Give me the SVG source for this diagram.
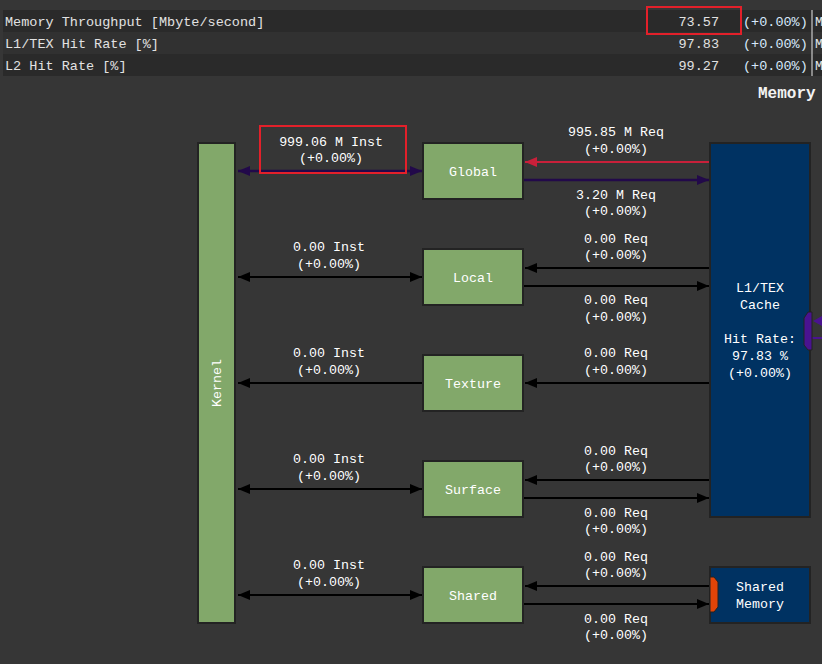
<svg xmlns="http://www.w3.org/2000/svg" width="822" height="664" viewBox="0 0 822 664">
  <style>
    .tbl { font-family: "Liberation Mono", "DejaVu Sans Mono", monospace; font-size: 13.5px; fill: #e2e2e2; }
    .pct { fill: #d6e8fb; }
    .lbl { font-family: "Liberation Mono", "DejaVu Sans Mono", monospace; font-size: 13.3px; fill: #ffffff; text-anchor: middle; dominant-baseline: central; }
    .unit { fill: #82a86a; stroke: #232323; stroke-width: 2; }
    .mem { fill: #003262; stroke: #232323; stroke-width: 2; }
    .blk { stroke: #000000; stroke-width: 2; fill: none; }
    .pur { stroke: #22094a; stroke-width: 2.5; fill: none; }
    .red { stroke: #c8203a; stroke-width: 2; fill: none; }
    .hl { fill: none; stroke: #e3202a; stroke-width: 2; }
  </style>
  <defs>
    <marker id="ah-black" viewBox="0 0 12 10" refX="12" refY="5" markerWidth="12" markerHeight="10" markerUnits="userSpaceOnUse" orient="auto-start-reverse">
      <path d="M0,0 L12,5 L0,10 z" fill="#000000"/>
    </marker>
    <marker id="ah-purple" viewBox="0 0 12 10" refX="12" refY="5" markerWidth="12" markerHeight="10" markerUnits="userSpaceOnUse" orient="auto-start-reverse">
      <path d="M0,0 L12,5 L0,10 z" fill="#22094a"/>
    </marker>
    <marker id="ah-red" viewBox="0 0 12 10" refX="12" refY="5" markerWidth="12" markerHeight="10" markerUnits="userSpaceOnUse" orient="auto-start-reverse">
      <path d="M0,0 L12,5 L0,10 z" fill="#c8203a"/>
    </marker>
  </defs>

  <rect width="822" height="664" fill="#363636"/>

  <!-- metrics table -->
  <g id="metrics-table">
    <rect x="3" y="10" width="819" height="22" fill="#2a2a2a"/>
    <rect x="3" y="32" width="819" height="22" fill="#313131"/>
    <rect x="3" y="54" width="819" height="22" fill="#2a2a2a"/>
    <line x1="812" y1="10" x2="812" y2="76" stroke="#e8e8e8" stroke-width="1"/>
    <text class="tbl" x="5" y="26">Memory Throughput [Mbyte/second]</text>
    <text class="tbl" x="5" y="48">L1/TEX Hit Rate [%]</text>
    <text class="tbl" x="5" y="70">L2 Hit Rate [%]</text>
    <text class="tbl" x="719" y="26" text-anchor="end">73.57</text>
    <text class="tbl" x="719" y="48" text-anchor="end">97.83</text>
    <text class="tbl" x="719" y="70" text-anchor="end">99.27</text>
    <text class="tbl pct" x="743" y="26">(+0.00%)</text>
    <text class="tbl pct" x="743" y="48">(+0.00%)</text>
    <text class="tbl pct" x="743" y="70">(+0.00%)</text>
    <text class="tbl" x="815" y="26">M</text>
    <text class="tbl" x="815" y="48">M</text>
    <text class="tbl" x="815" y="70">M</text>
    <rect class="hl" x="647" y="7" width="94" height="27"/>
  </g>

  <text x="758" y="98" font-family="Liberation Mono, DejaVu Sans Mono, monospace" font-size="16" font-weight="bold" fill="#f2f2f2">Memory</text>

  <!-- connectors -->
  <g id="connectors">
    <line class="pur" x1="238" y1="171" x2="422" y2="171" marker-start="url(#ah-purple)" marker-end="url(#ah-purple)"/>
    <line class="red" x1="709" y1="162" x2="525" y2="162" marker-end="url(#ah-red)"/>
    <line class="pur" x1="524" y1="180" x2="709" y2="180" marker-end="url(#ah-purple)"/>

    <line class="blk" x1="238" y1="277" x2="422" y2="277" marker-start="url(#ah-black)" marker-end="url(#ah-black)"/>
    <line class="blk" x1="709" y1="268" x2="525" y2="268" marker-end="url(#ah-black)"/>
    <line class="blk" x1="524" y1="286" x2="709" y2="286" marker-end="url(#ah-black)"/>

    <line class="blk" x1="422" y1="383" x2="238" y2="383" marker-end="url(#ah-black)"/>
    <line class="blk" x1="709" y1="383" x2="525" y2="383" marker-end="url(#ah-black)"/>

    <line class="blk" x1="238" y1="489" x2="422" y2="489" marker-start="url(#ah-black)" marker-end="url(#ah-black)"/>
    <line class="blk" x1="709" y1="480" x2="525" y2="480" marker-end="url(#ah-black)"/>
    <line class="blk" x1="524" y1="498" x2="709" y2="498" marker-end="url(#ah-black)"/>

    <line class="blk" x1="238" y1="595" x2="422" y2="595" marker-start="url(#ah-black)" marker-end="url(#ah-black)"/>
    <line class="blk" x1="709" y1="586" x2="525" y2="586" marker-end="url(#ah-black)"/>
    <line class="blk" x1="524" y1="604" x2="709" y2="604" marker-end="url(#ah-black)"/>

    <!-- link leaving the L1/TEX port to the right -->
    <line x1="810" y1="338" x2="822" y2="338" stroke="#4a1390" stroke-width="2"/>
    <path d="M813,321 L822,316 L822,326 z" fill="#4a1390"/>
  </g>

  <!-- connector labels -->
  <g id="connector-labels">
    <text class="lbl" x="331" y="142">999.06 M Inst</text>
    <text class="lbl" x="331" y="158">(+0.00%)</text>
    <rect class="hl" x="260" y="126" width="146" height="47"/>
    <text class="lbl" x="616" y="132">995.85 M Req</text>
    <text class="lbl" x="616" y="149">(+0.00%)</text>
    <text class="lbl" x="616" y="195">3.20 M Req</text>
    <text class="lbl" x="616" y="211">(+0.00%)</text>

    <text class="lbl" x="329" y="247">0.00 Inst</text>
    <text class="lbl" x="329" y="264">(+0.00%)</text>
    <text class="lbl" x="616" y="239">0.00 Req</text>
    <text class="lbl" x="616" y="255">(+0.00%)</text>
    <text class="lbl" x="616" y="300">0.00 Req</text>
    <text class="lbl" x="616" y="317">(+0.00%)</text>

    <text class="lbl" x="329" y="353">0.00 Inst</text>
    <text class="lbl" x="329" y="370">(+0.00%)</text>
    <text class="lbl" x="616" y="353">0.00 Req</text>
    <text class="lbl" x="616" y="370">(+0.00%)</text>

    <text class="lbl" x="329" y="459">0.00 Inst</text>
    <text class="lbl" x="329" y="476">(+0.00%)</text>
    <text class="lbl" x="616" y="451">0.00 Req</text>
    <text class="lbl" x="616" y="467">(+0.00%)</text>
    <text class="lbl" x="616" y="513">0.00 Req</text>
    <text class="lbl" x="616" y="529">(+0.00%)</text>

    <text class="lbl" x="329" y="565">0.00 Inst</text>
    <text class="lbl" x="329" y="582">(+0.00%)</text>
    <text class="lbl" x="616" y="557">0.00 Req</text>
    <text class="lbl" x="616" y="573">(+0.00%)</text>
    <text class="lbl" x="616" y="619">0.00 Req</text>
    <text class="lbl" x="616" y="635">(+0.00%)</text>
  </g>

  <!-- nodes -->
  <g id="kernel">
    <rect class="unit" x="198" y="143" width="37" height="480"/>
    <text class="lbl" transform="translate(217,383) rotate(-90)" x="0" y="0">Kernel</text>
  </g>
  <g id="global">
    <rect class="unit" x="423" y="143" width="100" height="56"/>
    <text class="lbl" x="473" y="172">Global</text>
  </g>
  <g id="local">
    <rect class="unit" x="423" y="249" width="100" height="56"/>
    <text class="lbl" x="473" y="278">Local</text>
  </g>
  <g id="texture">
    <rect class="unit" x="423" y="355" width="100" height="56"/>
    <text class="lbl" x="473" y="384">Texture</text>
  </g>
  <g id="surface">
    <rect class="unit" x="423" y="461" width="100" height="56"/>
    <text class="lbl" x="473" y="490">Surface</text>
  </g>
  <g id="shared">
    <rect class="unit" x="423" y="567" width="100" height="56"/>
    <text class="lbl" x="473" y="596">Shared</text>
  </g>
  <g id="l1tex-cache">
    <rect class="mem" x="710" y="143" width="100" height="374"/>
    <path d="M808,312 L804,318 L804,345 L808,350 L812,350 L812,312 z" fill="#4a1390" stroke="#232323" stroke-width="1"/>
    <text class="lbl" x="760" y="288">L1/TEX</text>
    <text class="lbl" x="760" y="305">Cache</text>
    <text class="lbl" x="760" y="339">Hit Rate:</text>
    <text class="lbl" x="760" y="356">97.83 %</text>
    <text class="lbl" x="760" y="373">(+0.00%)</text>
  </g>
  <g id="shared-memory">
    <rect class="mem" x="710" y="567" width="100" height="56"/>
    <path d="M710,577 L714,577 L718,582 L718,607 L714,612 L710,612 z" fill="#e04408" stroke="#232323" stroke-width="1"/>
    <text class="lbl" x="760" y="587">Shared</text>
    <text class="lbl" x="760" y="604">Memory</text>
  </g>
</svg>
